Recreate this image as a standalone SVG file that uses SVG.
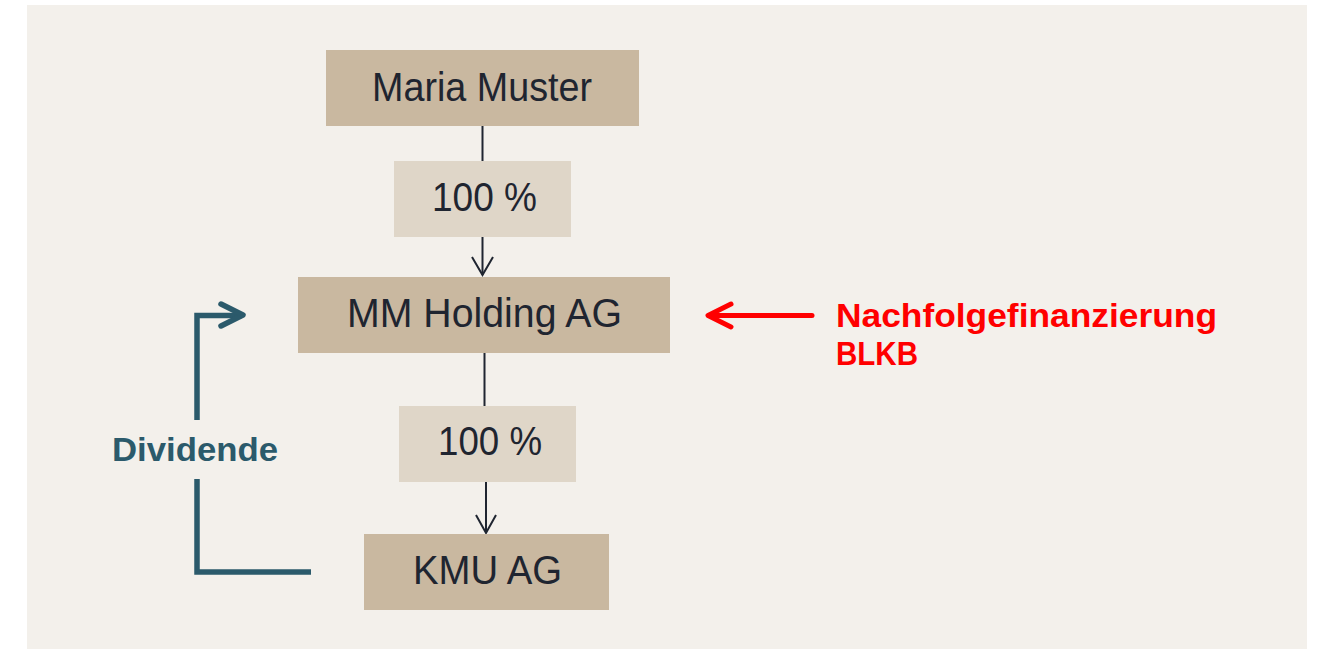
<svg xmlns="http://www.w3.org/2000/svg" width="1318" height="649" viewBox="0 0 1318 649">
<defs>
<style>
.node{fill:#c9b8a0}
.lbl{fill:#dfd6c8}
.nt{font-family:"Liberation Sans",Arial,sans-serif;font-size:40px;fill:#1f2530}
.conn{stroke:#1f2530;stroke-width:2;fill:none}
.teal{stroke:#2b5a6b;stroke-width:5.5;fill:none}
.red{stroke:#ff0000;stroke-width:5;fill:none;stroke-linecap:round;stroke-linejoin:round}
.bt{font-family:"Liberation Sans",Arial,sans-serif;font-weight:bold;font-size:33px}
</style>
</defs>
<rect x="0" y="0" width="1318" height="649" fill="#ffffff"/>
<rect x="27" y="5" width="1280" height="644" fill="#f3f0eb"/>
<g id="connectors">
<path class="conn" d="M482.5 126V161"/>
<path class="conn" d="M482.5 237V275"/>
<path class="conn" d="M472 257L482.5 275L493 257"/>
<path class="conn" d="M484.5 353V406"/>
<path class="conn" d="M486 482V532"/>
<path class="conn" d="M476 515L486 533L496 515"/>
<path class="teal" d="M197 420V315.5H242" stroke-linejoin="miter"/>
<path class="teal" d="M221 304L243 315L221 326" stroke-linecap="round" stroke-linejoin="round"/>
<path class="teal" d="M197 479V572H311" stroke-linejoin="miter"/>
<path class="red" d="M812 315.5H709"/>
<path class="red" d="M731 304L708 315.5L731 327"/>
</g>
<g id="maria-muster">
<rect class="node" x="326" y="50" width="313" height="76"/>
<text class="nt" x="372" y="101" textLength="220" lengthAdjust="spacingAndGlyphs">Maria Muster</text>
</g>
<g id="label-100-1">
<rect class="lbl" x="394" y="161" width="177" height="76"/>
<text class="nt" x="432" y="211" textLength="105" lengthAdjust="spacingAndGlyphs">100 %</text>
</g>
<g id="mm-holding">
<rect class="node" x="298" y="277" width="372" height="76"/>
<text class="nt" x="347" y="327" textLength="275" lengthAdjust="spacingAndGlyphs">MM Holding AG</text>
</g>
<g id="label-100-2">
<rect class="lbl" x="399" y="406" width="177" height="76"/>
<text class="nt" x="438" y="455" textLength="104" lengthAdjust="spacingAndGlyphs">100 %</text>
</g>
<g id="kmu-ag">
<rect class="node" x="364" y="534" width="245" height="76"/>
<text class="nt" x="413" y="584" textLength="149" lengthAdjust="spacingAndGlyphs">KMU AG</text>
</g>
<g id="dividende">
<text class="bt" x="112" y="461" fill="#2b5a6b" font-size="34" textLength="166" lengthAdjust="spacingAndGlyphs">Dividende</text>
</g>
<g id="nachfolge">
<text class="bt" x="836" y="327" fill="#ff0000" textLength="381" lengthAdjust="spacingAndGlyphs">Nachfolgefinanzierung</text>
<text class="bt" x="836" y="365" fill="#ff0000" textLength="82" lengthAdjust="spacingAndGlyphs">BLKB</text>
</g>
</svg>
